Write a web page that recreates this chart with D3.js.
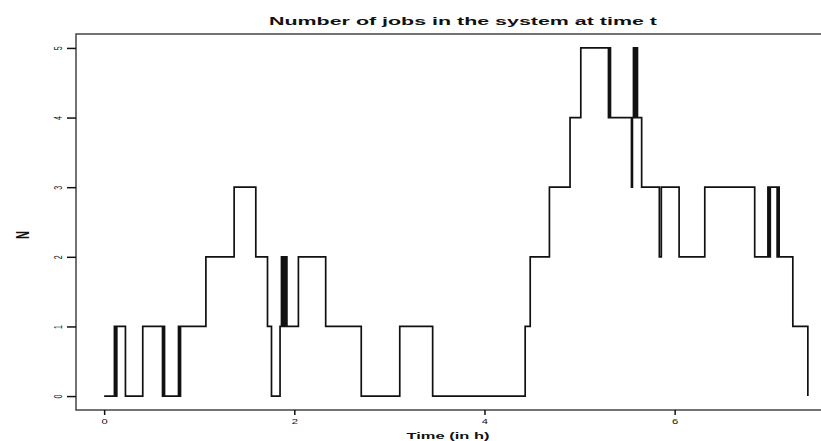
<!DOCTYPE html>
<html>
<head>
<meta charset="utf-8">
<script src="https://cdn.jsdelivr.net/npm/d3@7"></script>
<style>
  body { margin: 0; background: #fff; }
  text { font-family: "Liberation Sans", Arial, sans-serif; fill: #111; }
</style>
</head>
<body>
<div id="chart"></div>
<script>
// event times (hours) and number of jobs right after each event
const eventTimes = [0, 0.108, 0.121, 0.133, 0.224, 0.406, 0.614, 0.624, 0.635, 0.782, 0.792, 0.803,
  1.070, 1.367, 1.595, 1.718, 1.760, 1.850, 1.865, 1.873, 1.881, 1.890, 1.898, 1.907, 1.915, 1.922,
  2.043, 2.330, 2.704, 3.109, 3.455, 4.428, 4.481, 4.683, 4.900, 5.013, 5.304, 5.315, 5.325,
  5.546, 5.556, 5.567, 5.582, 5.593, 5.609, 5.653, 5.839, 5.860, 6.047, 6.317, 6.842,
  6.981, 6.994, 7.006, 7.078, 7.088, 7.099, 7.243, 7.401];
const jobCounts = [0, 1, 0, 1, 0, 1, 0, 1, 0, 1, 0, 1,
  2, 3, 2, 1, 0, 1, 2, 1, 2, 1, 2, 1, 2, 1,
  2, 1, 0, 1, 0, 1, 2, 3, 4, 5, 4, 5, 4,
  3, 4, 5, 4, 5, 4, 3, 2, 3, 2, 3, 2,
  3, 2, 3, 2, 3, 2, 1, 0];

const xTicks = [0, 2, 4, 6];
const yTicks = [0, 1, 2, 3, 4, 5];

const title = 'Number of jobs in the system at time t';
const xTitle = 'Time (in h)';
const yTitle = 'N';

const width = 821, height = 441;
const margin = { top: 34, right: -15, bottom: 31, left: 76 };
const stretch = 1.6; // the picture is wider than tall, glyphs look stretched

const data = eventTimes.map((t, i) => ({ t: t, n: jobCounts[i] }));

const svg = d3.select('#chart').append('svg')
  .attr('width', width)
  .attr('height', height)

// R style: 4% padding around the data range
const tMax = d3.max(eventTimes);
const pad = tMax * 0.04;
const x = d3.scaleLinear()
  .domain([-pad, tMax + pad])
  .range([margin.left, width - margin.right])

const y = d3.scaleLinear()
  .domain([-0.2, 5.2])
  .range([height - margin.bottom, margin.top])

// box
svg.append('rect')
  .attr('x', margin.left)
  .attr('y', margin.top)
  .attr('width', width - margin.right - margin.left)
  .attr('height', height - margin.bottom - margin.top)
  .attr('fill', 'none')
  .attr('stroke', '#444')
  .attr('stroke-width', 1.5)

const line = d3.line()
  .x((d) => x(d.t))
  .y((d) => y(d.n))
  .curve(d3.curveStepAfter)

svg.append('path')
  .datum(data)
  .attr('fill', 'none')
  .attr('stroke', '#111')
  .attr('stroke-width', 1.7)
  .attr('d', line)

// x axis
const gx = svg.append('g')
  .attr('transform', 'translate(0,' + (height - margin.bottom) + ')')
  .call(d3.axisBottom(x).tickValues(xTicks).tickSize(5).tickFormat(d3.format('d')))
gx.select('.domain').remove()
gx.selectAll('line').attr('stroke', '#111').attr('stroke-width', 1.5)
gx.selectAll('text')
  .attr('y', 0).attr('dy', 0)
  .attr('transform', 'translate(0,14) scale(' + stretch + ',1)')
  .style('font-size', '7px')

// y axis
const gy = svg.append('g')
  .attr('transform', 'translate(' + margin.left + ',0)')
  .call(d3.axisLeft(y).tickValues(yTicks).tickSize(9).tickFormat(d3.format('d')))
gy.select('.domain').remove()
gy.selectAll('line').attr('stroke', '#111').attr('stroke-width', 1.5)
gy.selectAll('text')
  .attr('x', 0).attr('dy', 0)
  .attr('text-anchor', 'middle')
  .attr('transform', 'translate(-14,0) scale(' + stretch + ',1) rotate(-90)')
  .style('font-size', '7px')

// titles
svg.append('text')
  .attr('x', 463)
  .attr('y', 25)
  .attr('text-anchor', 'middle')
  .attr('textLength', 388)
  .attr('lengthAdjust', 'spacingAndGlyphs')
  .style('font-size', '11px')
  .style('font-weight', 'bold')
  .text(title)

svg.append('text')
  .attr('x', 448)
  .attr('y', 439)
  .attr('text-anchor', 'middle')
  .attr('textLength', 83)
  .attr('lengthAdjust', 'spacingAndGlyphs')
  .style('font-size', '9px')
  .style('font-weight', 'bold')
  .text(xTitle)

svg.append('text')
  .attr('transform', 'translate(29,235) scale(' + stretch + ',1) rotate(-90)')
  .attr('text-anchor', 'middle')
  .style('font-size', '11px')
  .style('font-weight', 'bold')
  .text(yTitle)
</script>
</body>
</html>
